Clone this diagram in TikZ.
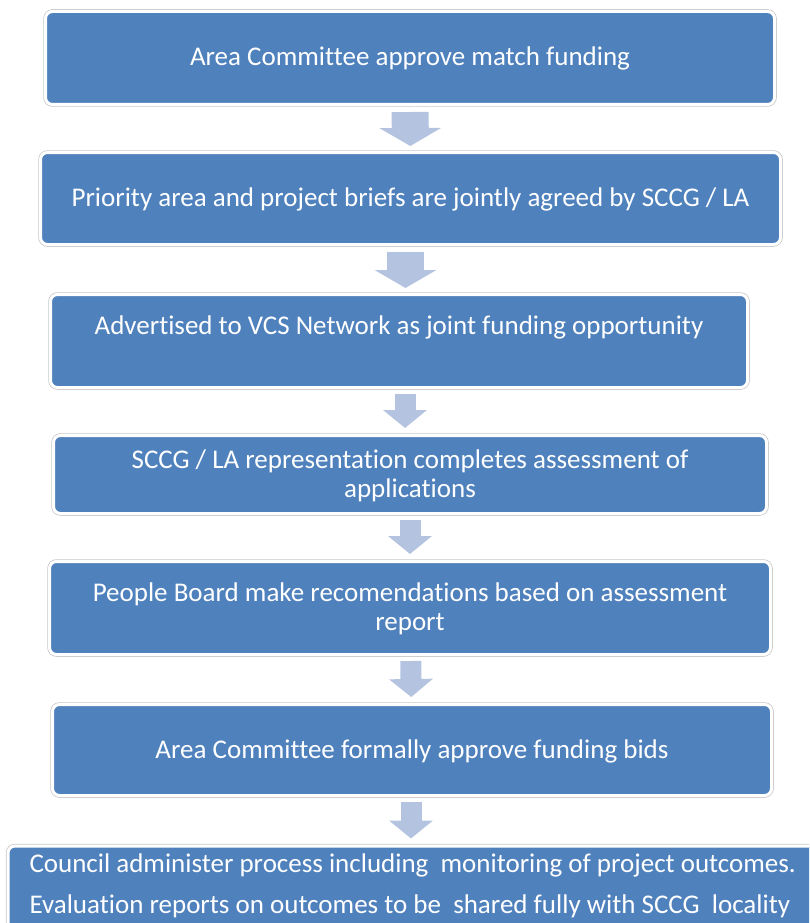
\documentclass[tikz,border=0pt]{standalone}
\usepackage{fontspec}
\setmainfont{Carlito}[Ligatures=NoCommon]
\usetikzlibrary{arrows.meta,positioning,calc}
\definecolor{stageblue}{HTML}{4F81BD}
\definecolor{arrowblue}{HTML}{B4C4E0}
\definecolor{rimgray}{HTML}{C8C8C8}

\begin{document}
\begin{tikzpicture}[x=1pt, y=-1pt,
  stage/.style={rectangle, fill=stageblue, draw=white, line width=3pt, rounded corners=7pt, align=center, text=white, font=\fontsize{27}{29}\selectfont, inner sep=0pt, preaction={draw=rimgray, line width=4.5pt}},
  oneline/.style={text height=22pt, text depth=6pt},
  twoline/.style={text height=51pt, text depth=6pt},
  bigarr/.style={draw=arrowblue, line width=37pt, -{Triangle[width=61pt, length=18pt]}, shorten <=6pt, shorten >=5pt},
  smallarr/.style={draw=arrowblue, line width=21pt, -{Triangle[width=43pt, length=18pt]}, shorten <=5pt, shorten >=6pt}
]
\clip (0,0) rectangle (809,923);

% Stages
\node[stage, oneline, minimum width=729pt, minimum height=93pt] (approve) at (410,58) {Area Committee approve match funding};
\node[stage, oneline, minimum width=740pt, minimum height=92pt] (briefs) at (410.5,198.5) {Priority area and project briefs are jointly agreed by SCCG / LA};
\node[stage, twoline, minimum width=697pt, minimum height=93pt] (advert) at (399,341) {Advertised to VCS Network as joint funding opportunity\\ \mbox{}};
\node[stage, twoline, minimum width=713pt, minimum height=78pt] (assess) at (410,474.5) {SCCG / LA representation completes assessment of\\applications};
\node[stage, twoline, minimum width=721pt, minimum height=93pt] (board) at (410,608) {People Board make recomendations based on assessment\\report};
\node[stage, oneline, minimum width=719pt, minimum height=91pt] (bids) at (412,750) {Area Committee formally approve funding bids};

% Bottom: runs off the page
\node[stage, anchor=north west, align=flush left, text width=800pt, text height=26pt, text depth=70pt, inner xsep=21.5pt, inner ysep=0pt, font=\fontsize{27}{41}\selectfont] (council) at (6.5,844.5) {Council administer process including\ \ monitoring of project outcomes.\\Evaluation reports on outcomes to be\ \ shared fully with SCCG\ \ locality};

% Arrows
\coordinate (a2) at ($(briefs.south)+(-5,0)$);
\draw[bigarr] (approve) -- (briefs);
\draw[bigarr] (a2) -- (a2 |- advert.north);
\draw[smallarr] ($(advert.south)+(6,0)$) -- ($(assess.north)+(-5,0)$);
\draw[smallarr] (assess) -- (board);
\draw[smallarr] (board) -- (bids);
\draw[smallarr] ($(bids.south)+(-1,0)$) -- ($(council.north west)+(404.5,0)$);

\end{tikzpicture}
\end{document}
